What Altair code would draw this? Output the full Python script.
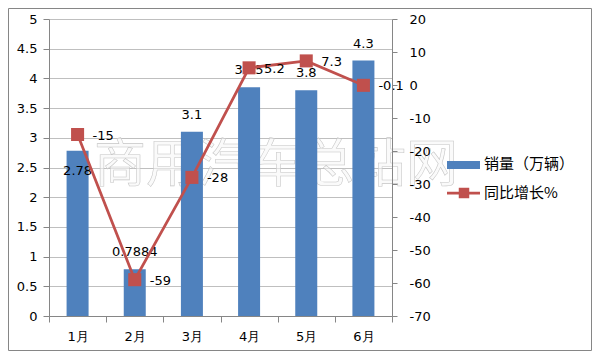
import altair as alt
import pandas as pd

months = ["1月", "2月", "3月", "4月", "5月", "6月"]
sales = [2.78, 0.7884, 3.1, 3.85, 3.8, 4.3]
sales_labels = ["2.78", "0.7884", "3.1", "3.85", "3.8", "4.3"]
growth = [-15, -59, -28, 5.2, 7.3, -0.1]
growth_labels = ["-15", "-59", "-28", "5.2", "7.3", "-0.1"]
left_ticks = [0, 0.5, 1, 1.5, 2, 2.5, 3, 3.5, 4, 4.5, 5]
right_ticks = [-70, -60, -50, -40, -30, -20, -10, 0, 10, 20]
watermark_text = "商用汽车总站网"
legend_names = ["销量（万辆）", "同比增长%"]

df = pd.DataFrame({
    "month": months,
    "sales": sales,
    "sales_label": sales_labels,
    "growth": growth,
    "growth_label": growth_labels,
})

BLUE = "#4F81BD"
RED = "#C0504D"
AXIS = "#868686"
GRID = "#BFBFBF"
FONT = "DejaVu Sans"
CJK = "Noto Sans CJK SC"

x = alt.X(
    "month:N", sort=months,
    scale=alt.Scale(paddingInner=0, paddingOuter=0),
    axis=alt.Axis(title=None, labelAngle=0, tickBand="extent", tickSize=6,
                  labelPadding=8, domainColor=AXIS, tickColor=AXIS, grid=False,
                  labelFontSize=13),
)

left_scale = alt.Scale(domain=[0, 5], nice=False, zero=True)
right_scale = alt.Scale(domain=[-70, 20], nice=False, zero=False)

y_left = alt.Y(
    "sales:Q", scale=left_scale,
    axis=alt.Axis(title=None, orient="left", values=left_ticks, grid=True,
                  gridColor=GRID, tickSize=6, labelPadding=6, domainColor=AXIS,
                  tickColor=AXIS, labelFontSize=13, labelExpr="'' + datum.value"),
)
y_left_noaxis = alt.Y("sales:Q", scale=left_scale, axis=None)

y_right = alt.Y(
    "growth:Q", scale=right_scale,
    axis=alt.Axis(title=None, orient="right", values=right_ticks, grid=False,
                  tickSize=5, labelPadding=12, domainColor=AXIS, tickColor=AXIS,
                  labelFontSize=13, labelExpr="'' + datum.value", zindex=1),
)
y_right_noaxis = alt.Y("growth:Q", scale=right_scale, axis=None)

base = alt.Chart(df)

bars = base.mark_bar(size=22, color=BLUE).encode(x=x, y=y_left)
bar_text = base.mark_text(dy=-17, baseline="middle", font=FONT, fontSize=13, color="#000").encode(
    x=x, y=y_left_noaxis, text="sales_label:N"
).transform_filter(alt.datum.month != "1月")
bar_text_first = base.mark_text(dy=20, baseline="middle", font=FONT, fontSize=13, color="#000").encode(
    x=x, y=y_left_noaxis, text="sales_label:N"
).transform_filter(alt.datum.month == "1月")

line = base.mark_line(color=RED, strokeWidth=2.75).encode(x=x, y=y_right)
points = base.mark_point(shape="square", filled=True, size=170, color=RED, opacity=1).encode(
    x=x, y=y_right_noaxis)
line_text = base.mark_text(align="left", dx=15, dy=1, baseline="middle", font=FONT,
                           fontSize=13, color="#000").encode(
    x=x, y=y_right_noaxis, text="growth_label:N")

one = alt.Data(values=[{"k": 1}])

wm = alt.Chart(one).mark_text(font=CJK, fontSize=52, fill="#F6F6F6", fillOpacity=0.6,
                              stroke="#C6C6C6", strokeWidth=0.55,
                              baseline="middle", align="center").encode(
    x=alt.value(227), y=alt.value(147), text=alt.value(watermark_text))

leg_rect = alt.Chart(one).mark_rect(color=BLUE).encode(
    x=alt.value(398), x2=alt.value(431), y=alt.value(142), y2=alt.value(150))
leg_line = alt.Chart(one).mark_rule(color=RED, strokeWidth=2.75).encode(
    x=alt.value(398), x2=alt.value(431), y=alt.value(174))
leg_pt = alt.Chart(one).mark_point(shape="square", filled=True, size=110, color=RED, opacity=1).encode(
    x=alt.value(415), y=alt.value(174))
leg_t1 = alt.Chart(one).mark_text(align="left", baseline="middle", font=CJK, fontSize=15, color="#000").encode(
    x=alt.value(435), y=alt.value(145), text=alt.value(legend_names[0]))
leg_t2 = alt.Chart(one).mark_text(align="left", baseline="middle", font=CJK, fontSize=15, color="#000").encode(
    x=alt.value(435), y=alt.value(174), text=alt.value(legend_names[1]))

border = alt.Chart(one).mark_rect(filled=False, stroke=AXIS, strokeWidth=1).encode(
    x=alt.value(-40.5), x2=alt.value(542.5), y=alt.value(-10.5), y2=alt.value(331.5))

chart = alt.layer(
    wm, bars, bar_text, bar_text_first, line, points, line_text,
    leg_rect, leg_line, leg_pt, leg_t1, leg_t2, border
).resolve_scale(y="independent").properties(
    width=343, height=297,
    autosize=alt.AutoSizeParams(type="none"),
    padding={"left": 41, "top": 11, "right": 200, "bottom": 35},
).configure_view(stroke=None).configure_axis(
    labelFont=FONT, labelColor="#000"
)

chart.save("out.html", embed_options={"renderer": "svg", "actions": False})
